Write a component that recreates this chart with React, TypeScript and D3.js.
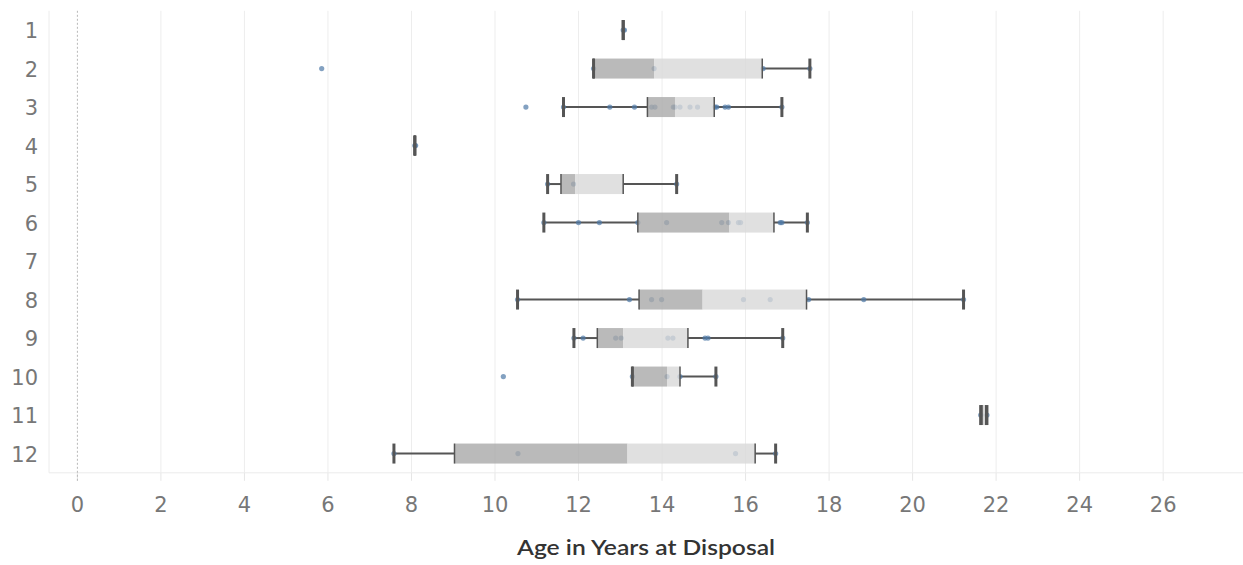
import React from "react";
import * as d3 from "d3";

const categories = ["1", "2", "3", "4", "5", "6", "7", "8", "9", "10", "11", "12"];
const whiskerLow: (number | null)[] = [13.07, 12.36, 11.64, 8.08, 11.26, 11.17, null, 10.54, 11.89, 13.29, 21.63, 7.58];
const quartile1: (number | null)[] = [13.07, 12.36, 13.65, 8.08, 11.58, 13.42, null, 13.45, 12.45, 13.29, 21.66, 9.03];
const medians: (number | null)[] = [13.07, 13.81, 14.31, 8.08, 11.92, 15.61, null, 14.97, 13.07, 14.12, 21.7, 13.17];
const quartile3: (number | null)[] = [13.07, 16.4, 15.25, 8.08, 13.07, 16.68, null, 17.46, 14.62, 14.43, 21.75, 16.23];
const whiskerHigh: (number | null)[] = [13.07, 17.54, 16.87, 8.08, 14.35, 17.48, null, 21.22, 16.89, 15.29, 21.78, 16.72];
const points: number[][] = [
  [13.07, 13.1],
  [5.85, 12.36, 13.81, 16.42, 17.54],
  [10.74, 11.64, 12.75, 13.34, 13.75, 13.83, 14.27, 14.31, 14.43, 14.67, 14.85, 15.27, 15.31, 15.51, 15.59, 16.87],
  [8.08, 8.1],
  [11.26, 11.88, 14.35],
  [11.17, 12.0, 12.5, 13.42, 14.11, 15.43, 15.59, 15.83, 15.88, 16.83, 16.87, 17.48],
  [],
  [10.54, 13.22, 13.75, 13.99, 15.95, 16.59, 17.51, 18.83, 21.22],
  [11.89, 12.11, 12.89, 13.02, 14.14, 14.26, 15.03, 15.1, 16.89],
  [10.2, 13.29, 14.12, 14.43, 15.29],
  [21.63, 21.78],
  [7.58, 10.55, 15.76, 16.72],
];
const xTicks = [0, 2, 4, 6, 8, 10, 12, 14, 16, 18, 20, 22, 24, 26];
const xTitle = "Age in Years at Disposal";

const W = 1243;
const H = 565;
const left = 49;
const right = 1240;
const top = 10.8;
const bottom = 472.8;

export default function App() {
  const x = d3.scaleLinear().domain([-0.68, 27.84]).range([left, right]);
  const y = d3.scaleBand<string>().domain(categories).range([top, bottom]).padding(0);
  const bh = 20;
  const dark = "#555555";
  const font = "'DejaVu Sans', sans-serif";

  return (
    <div style={{ position: "absolute", left: 0, top: 0 }}>
      <svg width={W} height={H} style={{ display: "block", background: "#fff" }}>
        {/* gridlines */}
        {xTicks.filter((t) => t !== 0).map((t) => (
          <line key={"g" + t} x1={x(t)} x2={x(t)} y1={top} y2={bottom} stroke="#ededed" strokeWidth={1} />
        ))}
        {xTicks.map((t) => (
          <line key={"t" + t} x1={x(t)} x2={x(t)} y1={bottom} y2={bottom + 8} stroke="#e6e6e6" strokeWidth={1} />
        ))}
        <line x1={left} x2={left} y1={top} y2={bottom} stroke="#ececec" />
        <line x1={left} x2={right + 3} y1={bottom} y2={bottom} stroke="#ececec" />
        <line x1={x(0)} x2={x(0)} y1={top} y2={bottom + 10} stroke="#b8b8b8" strokeDasharray="2,2" />

        {/* whiskers */}
        {categories.map((c, i) => {
          if (whiskerLow[i] == null) return null;
          const cy = (y(c) as number) + y.bandwidth() / 2;
          const lo = whiskerLow[i] as number;
          const hi = whiskerHigh[i] as number;
          const a = quartile1[i] as number;
          const b = quartile3[i] as number;
          return (
            <g key={"w" + c}>
              <line x1={x(lo)} x2={x(a)} y1={cy} y2={cy} stroke={dark} strokeWidth={2} />
              <line x1={x(b)} x2={x(hi)} y1={cy} y2={cy} stroke={dark} strokeWidth={2} />
            </g>
          );
        })}

        {/* points */}
        {categories.map((c, i) => {
          const cy = (y(c) as number) + y.bandwidth() / 2;
          return points[i].map((v, j) => (
            <circle key={"p" + c + "-" + j} cx={x(v)} cy={cy} r={2.6} fill="#4e79a7" fillOpacity={0.7} />
          ));
        })}

        {/* boxes */}
        {categories.map((c, i) => {
          if (whiskerLow[i] == null) return null;
          const cy = (y(c) as number) + y.bandwidth() / 2;
          const lo = whiskerLow[i] as number;
          const hi = whiskerHigh[i] as number;
          const a = quartile1[i] as number;
          const m = medians[i] as number;
          const b = quartile3[i] as number;
          return (
            <g key={"b" + c}>
              <rect x={x(a)} y={cy - bh / 2} width={x(m) - x(a)} height={bh} fill="#a9a9a9" fillOpacity={0.8} />
              <rect x={x(m)} y={cy - bh / 2} width={x(b) - x(m)} height={bh} fill="#d8d8d8" fillOpacity={0.8} />
              <line x1={x(a)} x2={x(a)} y1={cy - bh / 2} y2={cy + bh / 2} stroke={dark} strokeWidth={1.5} />
              <line x1={x(b)} x2={x(b)} y1={cy - bh / 2} y2={cy + bh / 2} stroke={dark} strokeWidth={1.5} />
              <line x1={x(lo)} x2={x(lo)} y1={cy - bh / 2} y2={cy + bh / 2} stroke={dark} strokeWidth={3} />
              <line x1={x(hi)} x2={x(hi)} y1={cy - bh / 2} y2={cy + bh / 2} stroke={dark} strokeWidth={3} />
            </g>
          );
        })}

        {/* y labels */}
        {categories.map((c) => (
          <text
            key={"yl" + c}
            x={38}
            y={(y(c) as number) + y.bandwidth() / 2 + 8}
            textAnchor="end"
            fontFamily={font}
            fontSize={21}
            fill="#777"
          >
            {c}
          </text>
        ))}

        {/* x labels */}
        {xTicks.map((t) => (
          <text key={"xl" + t} x={x(t)} y={511.5} textAnchor="middle" fontFamily={font} fontSize={21} fill="#777">
            {t}
          </text>
        ))}

        <text
          x={646}
          y={555}
          textAnchor="middle"
          fontFamily="Lato, 'Open Sans', sans-serif"
          fontWeight={600}
          fontSize={21}
          fill="#333"
          textLength={258}
          lengthAdjust="spacingAndGlyphs"
        >
          {xTitle}
        </text>
      </svg>
    </div>
  );
}
